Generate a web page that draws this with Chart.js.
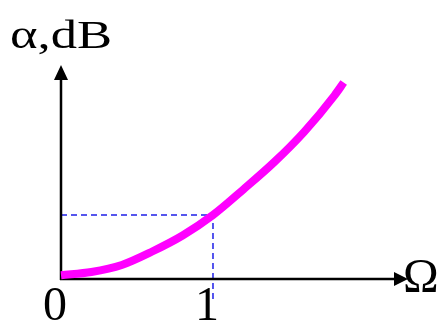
<!DOCTYPE html>
<html lang="en">
<head>
<meta charset="UTF-8">
<title>Attenuation curve</title>
<script src="https://cdn.jsdelivr.net/npm/chart.js"></script>
<style>
  body{ margin:0; background:#fff; }
  #wrap{ width:442px; height:322px; }
</style>
</head>
<body>
<div id="wrap"><canvas id="curve" width="442" height="322"></canvas></div>
<script>
  // values (x in units of Omega, y in units of the dashed level)
  let omega = [0, 0.2, 0.4, 0.6, 0.8, 1.0, 1.2, 1.4, 1.6, 1.8, 1.86];
  let alpha = [0.06, 0.11, 0.22, 0.43, 0.68, 1.0, 1.40, 1.82, 2.30, 2.87, 3.07];
  let xTicks = [0, 1];
  let xTickLabels = ['0', '1'];
  let markX = 1;
  let markY = 1;
  let yTitle = 'α,dB';
  let xTitle = 'Ω';

  const serif = '"Liberation Serif", "DejaVu Serif", serif';

  const axesPlugin = {
    id: 'axes',
    beforeDatasetsDraw(chart){
      const {ctx, scales:{x, y}} = chart;
      const x0 = x.getPixelForValue(0), y0 = y.getPixelForValue(0);
      const xEnd = x.getPixelForValue(x.max), yEnd = y.getPixelForValue(y.max);
      const gx = x.getPixelForValue(markX), gy = y.getPixelForValue(markY);
      ctx.save();
      // dashed guide lines
      ctx.strokeStyle = '#1f1fe8';
      ctx.lineWidth = 1.5;
      ctx.setLineDash([6, 4]);
      ctx.beginPath();
      ctx.moveTo(x0, gy);
      ctx.lineTo(gx, gy);
      ctx.lineTo(gx, y0 + 23);
      ctx.stroke();
      ctx.setLineDash([]);
      // axes
      ctx.strokeStyle = '#000';
      ctx.fillStyle = '#000';
      ctx.lineWidth = 2.5;
      ctx.beginPath();
      ctx.moveTo(x0, y0 + 1);
      ctx.lineTo(x0, yEnd + 12);
      ctx.moveTo(x0 - 1, y0);
      ctx.lineTo(xEnd - 12, y0);
      ctx.stroke();
      // arrow heads
      ctx.beginPath();
      ctx.moveTo(x0, yEnd);
      ctx.lineTo(x0 - 7, yEnd + 15);
      ctx.lineTo(x0 + 7, yEnd + 15);
      ctx.closePath();
      ctx.fill();
      ctx.beginPath();
      ctx.moveTo(xEnd, y0);
      ctx.lineTo(xEnd - 14, y0 - 7);
      ctx.lineTo(xEnd - 14, y0 + 7);
      ctx.closePath();
      ctx.fill();
      ctx.restore();
    },
    afterDraw(chart){
      const {ctx, scales:{x, y}} = chart;
      const y0 = y.getPixelForValue(0);
      ctx.save();
      ctx.fillStyle = '#000';
      ctx.textBaseline = 'alphabetic';
      ctx.font = '48px ' + serif;
      ctx.textAlign = 'center';
      xTicks.forEach((t, i) => {
        ctx.fillText(xTickLabels[i], x.getPixelForValue(t) - 6, y0 + 41);
      });
      ctx.textAlign = 'left';
      ctx.fillText(xTitle, x.getPixelForValue(x.max) - 5, y0 + 13);
      // y title, stretched sideways like the original
      ctx.font = '41px ' + serif;
      const w = ctx.measureText(yTitle).width;
      ctx.translate(10, 48);
      ctx.scale(102 / w, 1);
      ctx.fillText(yTitle, 0, 0);
      ctx.restore();
    }
  };

  new Chart(document.getElementById('curve'), {
    type: 'line',
    data: {
      datasets: [{
        data: omega.map((o, i) => ({x: o, y: alpha[i]})),
        borderColor: '#ff00ff',
        borderWidth: 8,
        pointRadius: 0,
        cubicInterpolationMode: 'monotone',
        borderCapStyle: 'butt',
        clip: false
      }]
    },
    options: {
      responsive: false,
      animation: false,
      events: [],
      layout: { padding: { left: 61, top: 65, right: 34, bottom: 43 } },
      scales: {
        x: { type: 'linear', display: false, min: 0, max: 2.283 },
        y: { display: false, min: 0, max: 3.344 }
      },
      plugins: { legend: { display: false }, tooltip: { enabled: false } }
    },
    plugins: [axesPlugin]
  });
</script>
</body>
</html>
